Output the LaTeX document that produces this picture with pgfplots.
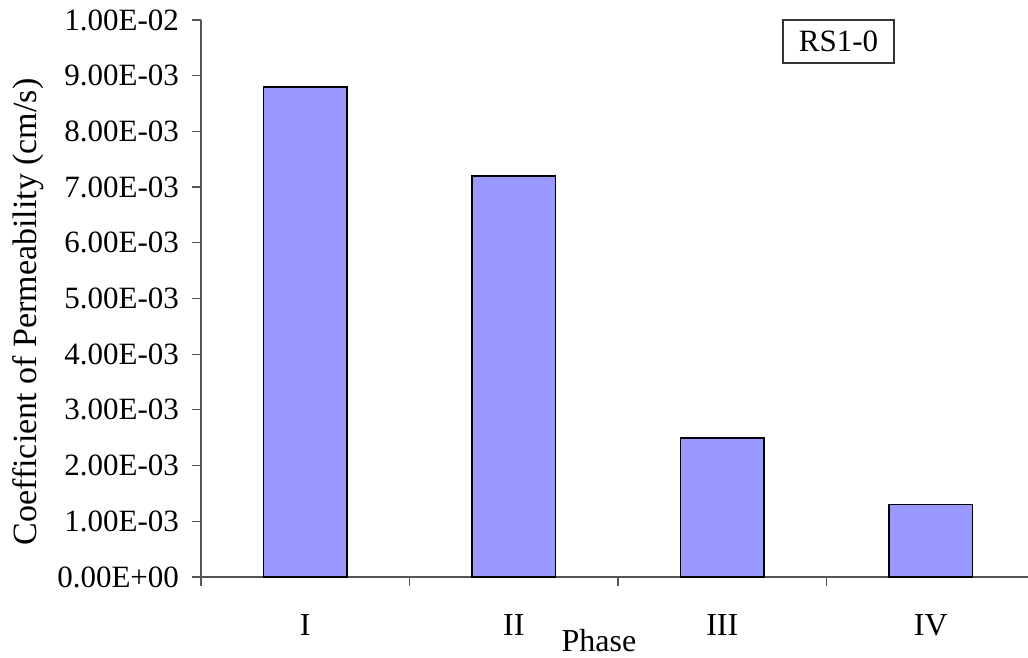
\documentclass[border=0pt]{standalone}
\usepackage{pgfplots}
\pgfplotsset{compat=1.18}
\usepackage{fontspec}
\setmainfont{Liberation Serif}
\definecolor{barfill}{HTML}{9999FF}
\definecolor{axisgray}{HTML}{555555}

\begin{document}
\begin{tikzpicture}
\begin{axis}[
  at={(0pt,0pt)}, anchor=south west,
  scale only axis,
  width=413.5pt, height=278.5pt,
  xmin=0.5, xmax=4.466,
  ymin=0, ymax=0.01,
  axis lines*=left,
  axis line style={draw=axisgray, line width=0.6pt},
  clip=false,
  ybar, bar width=0.4,
  xtick={1,2,3,4},
  xticklabels={I,II,III,IV},
  minor xtick={0.5,1.5,2.5,3.5},
  major x tick style={draw=none},
  ytick={0,0.001,0.002,0.003,0.004,0.005,0.006,0.007,0.008,0.009,0.01},
  yticklabels={0.00E+00,1.00E-03,2.00E-03,3.00E-03,4.00E-03,5.00E-03,6.00E-03,7.00E-03,8.00E-03,9.00E-03,1.00E-02},
  scaled y ticks=false,
  tick align=outside,
  major tick length=4.5pt,
  minor tick length=4.5pt,
  tick style={draw=axisgray, line width=0.6pt},
  x tick label style={font=\fontsize{16}{18}\selectfont, anchor=base, yshift=-25pt},
  y tick label style={font=\fontsize{15.5}{18}\selectfont, anchor=east, xshift=-3pt},
  xlabel={Phase},
  ylabel={Coefficient of Permeability (cm/s)},
  xlabel style={font=\fontsize{16}{18}\selectfont, at={(rel axis cs:0.4813,-0.1329)}, anchor=base},
  ylabel style={font=\fontsize{17}{20}\selectfont, at={(rel axis cs:-0.1983,0.4758)}, anchor=base},
]
\addplot[fill=barfill, draw=black, line width=0.8pt] coordinates {
  (1,0.0088) (2,0.0072) (3,0.0025) (4,0.0013)
};
\node[draw=black!80, line width=0.6pt, fill=white, minimum width=55.5pt, minimum height=21.5pt, inner sep=0pt,
      font=\fontsize{15.5}{18}\selectfont]
  at (rel axis cs:0.7709,0.9614) {RS1-0};
\end{axis}
\pgfresetboundingbox
\path (-100.5pt,-40.5pt) rectangle (413.5pt,288.5pt);
\end{tikzpicture}
\end{document}
